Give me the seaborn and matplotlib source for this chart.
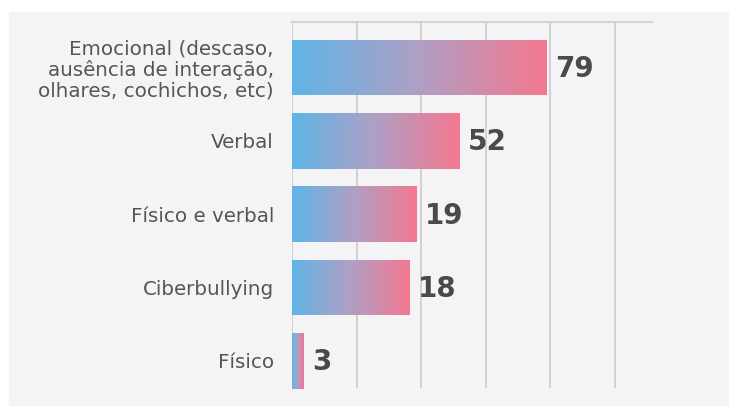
# %% Requirements and constants
import matplotlib
matplotlib.use('Agg')
import matplotlib.pyplot as plt
import seaborn as sns
import numpy as np
from matplotlib.colors import LinearSegmentedColormap
from matplotlib.patches import Rectangle

categories = [
    'Emocional (descaso,\nausência de interação,\nolhares, cochichos, etc)',
    'Verbal',
    'Físico e verbal',
    'Ciberbullying',
    'Físico',
]
# printed numbers
values = [79, 52, 19, 18, 3]
# bar lengths as drawn in the picture (the small bars are not to scale there)
bar_lengths = [79, 52, 38.5, 36.5, 3.6]
x_ticks = [0, 20, 40, 60, 80, 100]

sns.set_theme(style='white')
plt.rcParams['font.family'] = ['DejaVu Sans']

# %% Figure
fig = plt.figure(figsize=(7.29, 4.11), dpi=100)
fig.patch.set_facecolor('white')
# light backdrop behind the chart
fig.patches.append(Rectangle((9 / 729, 6 / 411), 1, 1 - 18 / 411,
                             transform=fig.transFigure, color='#f4f4f7',
                             zorder=-10))

ax = fig.add_axes([292 / 729, 23 / 411, 360 / 729, 366 / 411])
ax.set_facecolor('none')

sns.barplot(x=bar_lengths, y=categories, orient='h', width=0.76,
            color='#9aa9d0', ax=ax, zorder=3)

cmap = LinearSegmentedColormap.from_list('grad', ['#5fb5e7', '#b09fc4', '#f4788f'])
grad = np.linspace(0, 1, 256).reshape(1, -1)
for p in ax.patches:
    x0, y0 = p.get_x(), p.get_y()
    w, h = p.get_width(), p.get_height()
    im = ax.imshow(grad, cmap=cmap, aspect='auto', zorder=4,
                   extent=[x0, x0 + w, y0 + h, y0])
    im.set_clip_path(p)
    p.set_facecolor('none')
    p.set_edgecolor('none')

for i, (v, L) in enumerate(zip(values, bar_lengths)):
    ax.annotate(str(v), xy=(L, i), xytext=(6, -1), textcoords='offset points',
                ha='left', va='center', fontsize=20, color='#4a4a4a',
                fontweight='bold', zorder=5)

ax.set_xlim(0, 111.6)
ax.set_ylim(4.37, -0.62)
ax.set_xticks(x_ticks)
ax.set_xticklabels([])
ax.tick_params(axis='x', length=0)
ax.tick_params(axis='y', length=0, pad=13, labelsize=14.3, labelcolor='#555555')
for lbl in ax.get_yticklabels():
    lbl.set_linespacing(1.08)
ax.set_xlabel('')
ax.set_ylabel('')

ax.grid(axis='x', color='#cbcbcb', linewidth=1.2, zorder=0)
ax.grid(axis='y', visible=False)
for side in ['left', 'right', 'bottom']:
    ax.spines[side].set_visible(False)
ax.spines['top'].set_color('#d2d2d2')
ax.spines['top'].set_linewidth(1.5)

fig.savefig('out.png', dpi=100)
